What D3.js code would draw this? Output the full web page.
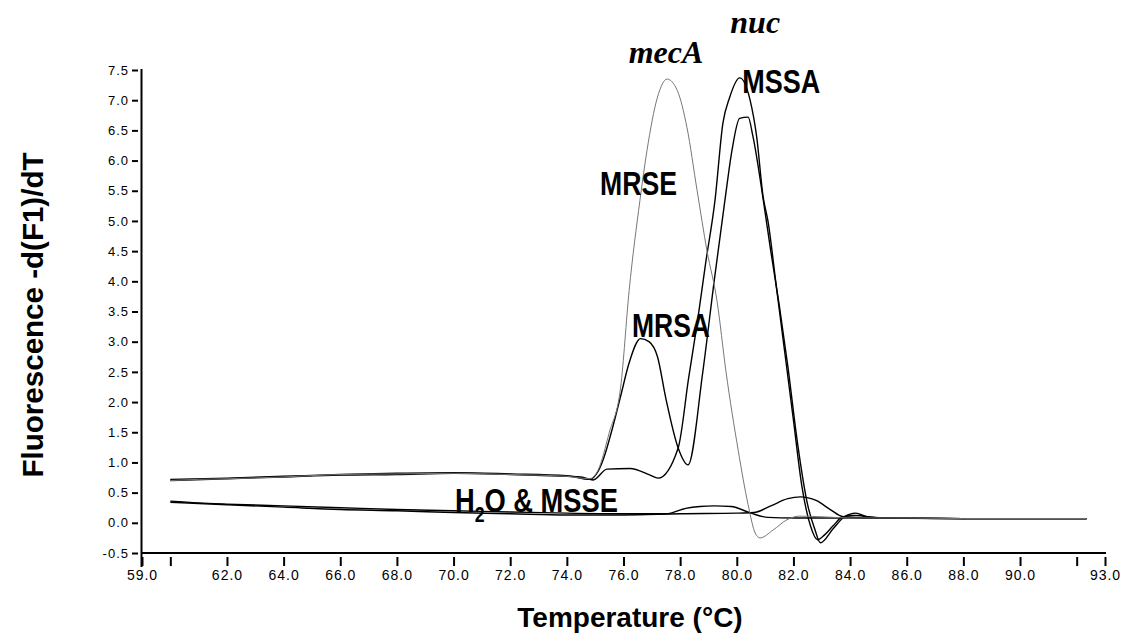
<!DOCTYPE html>
<html>
<head>
<meta charset="utf-8">
<script src="https://cdn.jsdelivr.net/npm/d3@7"></script>
<style>
  body { margin: 0; background: #fff; }
  svg { display: block; font-family: "Liberation Sans", Arial, sans-serif; }
</style>
</head>
<body>
<div id="chart"></div>
<script>
// ---------------------------------------------------------------
// Data: [temperature, -d(F1)/dT]
// ---------------------------------------------------------------
var xTicks = [59, 60, 62, 64, 66, 68, 70, 72, 74, 76, 78, 80, 82, 84, 86, 88, 90, 92, 93];
var xTickLabels = ["59.0", "", "62.0", "64.0", "66.0", "68.0", "70.0", "72.0", "74.0", "76.0",
                   "78.0", "80.0", "82.0", "84.0", "86.0", "88.0", "90.0", "", "93.0"];
var yTicks = [-0.5, 0, 0.5, 1, 1.5, 2, 2.5, 3, 3.5, 4, 4.5, 5, 5.5, 6, 6.5, 7, 7.5];

var mrse = [[60, 0.70], [61, 0.72], [62, 0.73], [64, 0.76], [66, 0.80], [68, 0.81], [70, 0.82],
  [72, 0.80], [74, 0.77], [74.8, 0.73], [75.1, 0.87], [75.5, 1.5], [75.9, 2.25], [76.2, 3.85],
  [76.58, 5.34], [76.83, 6.17], [77.2, 7.05], [77.54, 7.35], [77.9, 7.16], [78.24, 6.55],
  [78.6, 5.5], [78.95, 4.5], [79.3, 3.68], [79.62, 2.5], [80.05, 1.2], [80.4, 0.3],
  [80.65, -0.17], [80.82, -0.25], [81.28, -0.12], [81.77, 0.05], [82.2, 0.11], [83, 0.1],
  [84, 0.08], [86, 0.08], [88, 0.07], [90, 0.07], [92.35, 0.07]];

var mrsa = [[60, 0.72], [62, 0.74], [64, 0.77], [66, 0.80], [68, 0.82], [70, 0.83], [72, 0.81],
  [74, 0.78], [74.8, 0.72], [75.1, 0.85], [75.3, 1.07], [75.6, 1.55], [75.9, 2.1], [76.2, 2.65],
  [76.6, 3.05], [76.9, 3.0], [77.2, 2.75], [77.5, 2.05], [77.93, 1.24], [78.28, 0.96],
  [78.8, 2.5], [79.2, 4.0], [79.58, 5.34], [79.83, 6.17], [80.1, 6.7], [80.4, 6.72],
  [80.57, 6.4], [80.95, 5.3], [81.2, 4.5], [81.5, 3.6], [81.8, 2.6], [82.15, 1.3],
  [82.5, 0.3], [82.75, -0.1], [82.95, -0.33], [83.4, -0.1], [83.8, 0.1], [84.2, 0.16],
  [84.6, 0.1], [85.2, 0.08], [88, 0.07], [90, 0.07], [92.35, 0.07]];

var mssa = [[60, 0.70], [62, 0.73], [64, 0.76], [66, 0.79], [68, 0.80], [70, 0.82], [72, 0.80],
  [74, 0.77], [74.5, 0.76], [74.93, 0.71], [75.42, 0.89], [76.23, 0.9], [76.94, 0.79],
  [77.22, 0.74], [77.93, 1.24], [78.3, 2.4], [78.6, 3.3], [78.9, 4.3], [79.23, 5.34],
  [79.51, 6.62], [79.75, 7.05], [80.1, 7.37], [80.47, 7.0], [80.7, 6.4], [80.93, 5.4],
  [81.1, 5.0], [81.4, 3.9], [81.7, 2.8], [82.0, 1.7], [82.3, 0.6], [82.6, -0.05],
  [82.85, -0.28], [83.1, -0.2], [83.4, -0.05], [83.75, 0.1], [84.2, 0.12], [85, 0.08],
  [88, 0.07], [90, 0.07], [92.35, 0.07]];

var h2o = [[60, 0.36], [61, 0.33], [62, 0.31], [64, 0.28], [66, 0.25], [68, 0.22], [70, 0.2],
  [72, 0.18], [74, 0.16], [76, 0.15], [77.5, 0.15], [78.2, 0.24], [78.7, 0.27], [79.2, 0.28],
  [79.8, 0.27], [80.5, 0.16], [81.1, 0.09], [82, 0.08], [84, 0.08], [88, 0.07], [92.35, 0.07]];

var msse = [[60, 0.34], [61, 0.32], [62, 0.30], [64, 0.26], [66, 0.22], [68, 0.20], [70, 0.17],
  [72, 0.15], [74, 0.13], [76, 0.13], [78, 0.15], [80, 0.16], [80.6, 0.17], [81.2, 0.28],
  [81.8, 0.4], [82.25, 0.43], [82.8, 0.37], [83.3, 0.22], [83.75, 0.1], [84.5, 0.08],
  [88, 0.07], [92.35, 0.07]];

// ---------------------------------------------------------------
// SVG and scales
// ---------------------------------------------------------------
var svgWidth = 1123;
var svgHeight = 636;

var svg = d3.select("#chart")
    .append("svg")
    .attr("width", svgWidth)
    .attr("height", svgHeight);

svg.append("rect")
    .attr("width", svgWidth)
    .attr("height", svgHeight)
    .attr("fill", "#fff");

var xScale = d3.scaleLinear().domain([59, 93]).range([142, 1105]);
var yScale = d3.scaleLinear().domain([-0.5, 7.5]).range([553, 70]);

// ---------------------------------------------------------------
// Axes
// ---------------------------------------------------------------
var bottomAxis = d3.axisBottom(xScale)
    .tickValues(xTicks)
    .tickSize(9)
    .tickPadding(4)
    .tickFormat(function (d) { return xTickLabels[xTicks.indexOf(d)]; });

var xGroup = svg.append("g")
    .attr("transform", "translate(0, 557)")
    .call(bottomAxis);
xGroup.select(".domain").remove();
xGroup.attr("font-size", 14).attr("font-family", "Liberation Sans, Arial, sans-serif");
xGroup.selectAll("line").attr("stroke", "#000").attr("stroke-width", 2);
xGroup.selectAll("text").attr("fill", "#000").attr("letter-spacing", 1);

var leftAxis = d3.axisLeft(yScale)
    .tickValues(yTicks)
    .tickSize(6)
    .tickPadding(3)
    .tickFormat(function (d) { return d.toFixed(1); });

var yGroup = svg.append("g")
    .attr("transform", "translate(138, 0)")
    .call(leftAxis);
yGroup.select(".domain").remove();
yGroup.attr("font-size", 13).attr("font-family", "Liberation Sans, Arial, sans-serif");
yGroup.selectAll("line").attr("stroke", "#000").attr("stroke-width", 2);
yGroup.selectAll("text").attr("fill", "#000").attr("letter-spacing", 1);

// axis lines (y line runs on past the x axis, as in the original)
svg.append("line")
    .attr("x1", 141.5).attr("x2", 141.5)
    .attr("y1", yScale(7.5) - 1).attr("y2", 567)
    .attr("stroke", "#000").attr("stroke-width", 2);

svg.append("line")
    .attr("x1", 141).attr("x2", xScale(93) + 1)
    .attr("y1", yScale(-0.5)).attr("y2", yScale(-0.5))
    .attr("stroke", "#000").attr("stroke-width", 2);

// axis titles
svg.append("text")
    .attr("transform", "translate(43, 315) rotate(-90)")
    .attr("text-anchor", "middle")
    .attr("font-size", 30)
    .attr("font-weight", "bold")
    .attr("textLength", 325)
    .attr("lengthAdjust", "spacingAndGlyphs")
    .text("Fluorescence -d(F1)/dT");

svg.append("text")
    .attr("x", 630)
    .attr("y", 627)
    .attr("text-anchor", "middle")
    .attr("font-size", 28)
    .attr("font-weight", "bold")
    .text("Temperature (\u00B0C)");

// ---------------------------------------------------------------
// Curves
// ---------------------------------------------------------------
var line = d3.line()
    .x(function (d) { return xScale(d[0]); })
    .y(function (d) { return yScale(d[1]); })
    .curve(d3.curveMonotoneX);

var blackSeries = [h2o, msse, mssa, mrsa];
svg.append("g").selectAll("path")
    .data(blackSeries)
    .enter()
    .append("path")
    .attr("d", line)
    .attr("fill", "none")
    .attr("stroke", "#000")
    .attr("stroke-width", 1.4);

svg.append("path")
    .attr("d", line(mrse))
    .attr("fill", "none")
    .attr("stroke", "#777")
    .attr("stroke-width", 1);

// ---------------------------------------------------------------
// Curve labels
// ---------------------------------------------------------------
// squeeze a label to a given width (the original uses a condensed bold face)
function squeeze(g, width) {
    var t = g.select("text");
    var w = t.node().getComputedTextLength();
    g.attr("transform", g.attr("transform") + " scale(" + (width / w) + ",1)");
}

function sansLabel(txt, t, v, width) {
    var g = svg.append("g")
        .attr("transform", "translate(" + xScale(t) + "," + yScale(v) + ")");
    g.append("text")
        .attr("font-size", 34)
        .attr("font-weight", "bold")
        .text(txt);
    squeeze(g, width);
}

sansLabel("MSSA", 80.19, 7.12, 78);
sansLabel("MRSE", 75.17, 5.43, 77);
sansLabel("MRSA", 76.3, 3.08, 78);

var waterGroup = svg.append("g")
    .attr("transform", "translate(" + xScale(70.05) + "," + yScale(0.18) + ")");
var waterText = waterGroup.append("text")
    .attr("font-size", 34)
    .attr("font-weight", "bold");
waterText.append("tspan").text("H");
waterText.append("tspan").attr("font-size", 22).attr("dy", 10).text("2");
waterText.append("tspan").attr("dy", -10).text("O & MSSE");
squeeze(waterGroup, 163);

// gene names in italic serif
svg.append("text")
    .attr("x", xScale(77.5))
    .attr("y", yScale(7.61))
    .attr("text-anchor", "middle")
    .attr("font-family", "Liberation Serif, Times New Roman, serif")
    .attr("font-style", "italic")
    .attr("font-weight", "bold")
    .attr("font-size", 32)
    .text("mecA");

svg.append("text")
    .attr("x", xScale(80.65))
    .attr("y", yScale(8.11))
    .attr("text-anchor", "middle")
    .attr("font-family", "Liberation Serif, Times New Roman, serif")
    .attr("font-style", "italic")
    .attr("font-weight", "bold")
    .attr("font-size", 32)
    .text("nuc");
</script>
</body>
</html>
